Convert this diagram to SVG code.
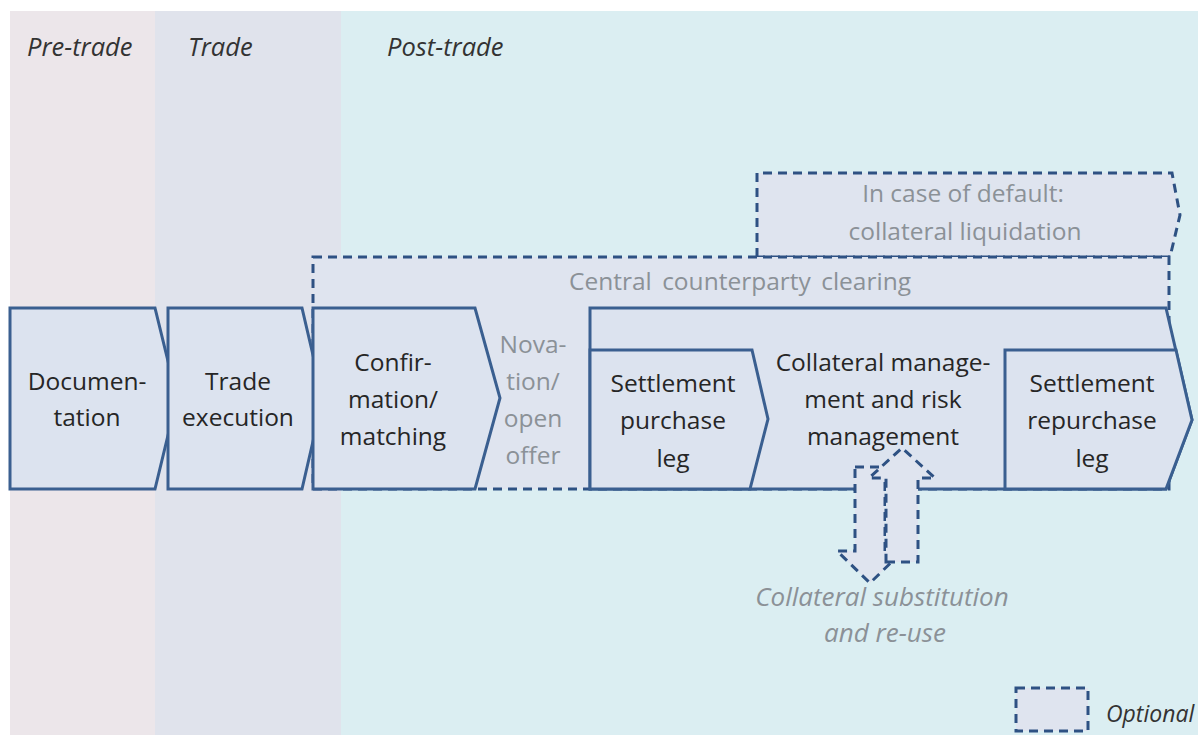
<svg xmlns="http://www.w3.org/2000/svg" width="1198" height="735" viewBox="0 0 1198 735">
<style>
.node{fill:#dce3ef;stroke:#3a5f90;stroke-width:3;stroke-linejoin:miter}
.opt{fill:#dfe4ef;stroke:#2e5183;stroke-width:3;stroke-dasharray:9 6}
.t{font-family:"Open Sans","Liberation Sans",sans-serif;font-size:24.5px;fill:#262626;text-anchor:middle}
.g{fill:#8b9197}
.h{font-family:"Open Sans","Liberation Sans",sans-serif;font-size:25.5px;font-style:italic;fill:#333}
.gi{font-family:"Open Sans","Liberation Sans",sans-serif;font-size:26px;font-style:italic;fill:#8b9197;text-anchor:middle}
</style>
<rect width="1198" height="735" fill="#ffffff"/>
<g id="bands">
<rect x="10" y="11" width="145" height="724" fill="#ece6ea"/>
<rect x="155" y="11" width="186" height="724" fill="#e0e3ec"/>
<rect x="341" y="11" width="857" height="724" fill="#dbeef2"/>
<text class="h" x="27" y="56">Pre-trade</text>
<text class="h" x="188" y="56">Trade</text>
<text class="h" x="387" y="56">Post-trade</text>
</g>
<g id="default">
<path class="opt" d="M757,257 L757,173 L1172,173 L1180,215 L1170,257 Z"/>
<text class="t g" x="963" y="202">In case of default:</text>
<text class="t g" x="965" y="240">collateral liquidation</text>
</g>
<g id="ccp">
<rect class="opt" x="313" y="257" width="856" height="232"/>
<text class="t g" x="740" y="290" style="word-spacing:4px">Central counterparty clearing</text>
</g>
<g id="documentation">
<path class="node" d="M10,308 L155,308 L177,398 L155,489 L10,489 Z"/>
<text class="t" x="87" y="390">Documen-</text>
<text class="t" x="87" y="426">tation</text>
</g>
<g id="trade-execution">
<path class="node" d="M168,308 L302,308 L323,398 L302,489 L168,489 Z"/>
<text class="t" x="238" y="390">Trade</text>
<text class="t" x="238" y="426">execution</text>
</g>
<g id="confirmation">
<path class="node" d="M313,308 L475,308 L500,398 L475,489 L313,489 Z"/>
<text class="t" x="393" y="371">Confir-</text>
<text class="t" x="393" y="408">mation/</text>
<text class="t" x="393" y="445">matching</text>
</g>
<g id="novation">
<text class="t g" x="533" y="353">Nova-</text>
<text class="t g" x="533" y="390">tion/</text>
<text class="t g" x="533" y="427">open</text>
<text class="t g" x="533" y="464">offer</text>
</g>
<g id="settlement-group">
<path class="node" d="M590,308 L1166,308 L1192,420 L1166,489 L590,489 Z"/>
</g>
<g id="collateral-management">
<text class="t" x="883" y="371">Collateral manage-</text>
<text class="t" x="883" y="408">ment and risk</text>
<text class="t" x="883" y="445">management</text>
</g>
<g id="settlement-purchase">
<path class="node" d="M590,350 L752,350 L768,419 L750,489 L590,489 Z"/>
<text class="t" x="673" y="392">Settlement</text>
<text class="t" x="673" y="429">purchase</text>
<text class="t" x="673" y="467">leg</text>
</g>
<g id="settlement-repurchase">
<path class="node" d="M1005,350 L1176,350 L1192,420 L1166,489 L1005,489 Z"/>
<text class="t" x="1092" y="392">Settlement</text>
<text class="t" x="1092" y="429">repurchase</text>
<text class="t" x="1092" y="467">leg</text>
</g>
<g id="substitution">
<path class="opt" d="M855,467 L885,467 L885,551 L903,551 L870,583 L837,551 L855,551 Z"/>
<path class="opt" d="M886,562 L918,562 L918,478 L935,478 L902,448 L869,478 L886,478 Z"/>
<text class="gi" x="882" y="606">Collateral substitution</text>
<text class="gi" x="885" y="642">and re-use</text>
</g>
<g id="legend">
<rect class="opt" x="1016" y="688" width="72" height="43"/>
<text class="h" x="1106" y="722" style="font-size:23px">Optional</text>
</g>
</svg>
